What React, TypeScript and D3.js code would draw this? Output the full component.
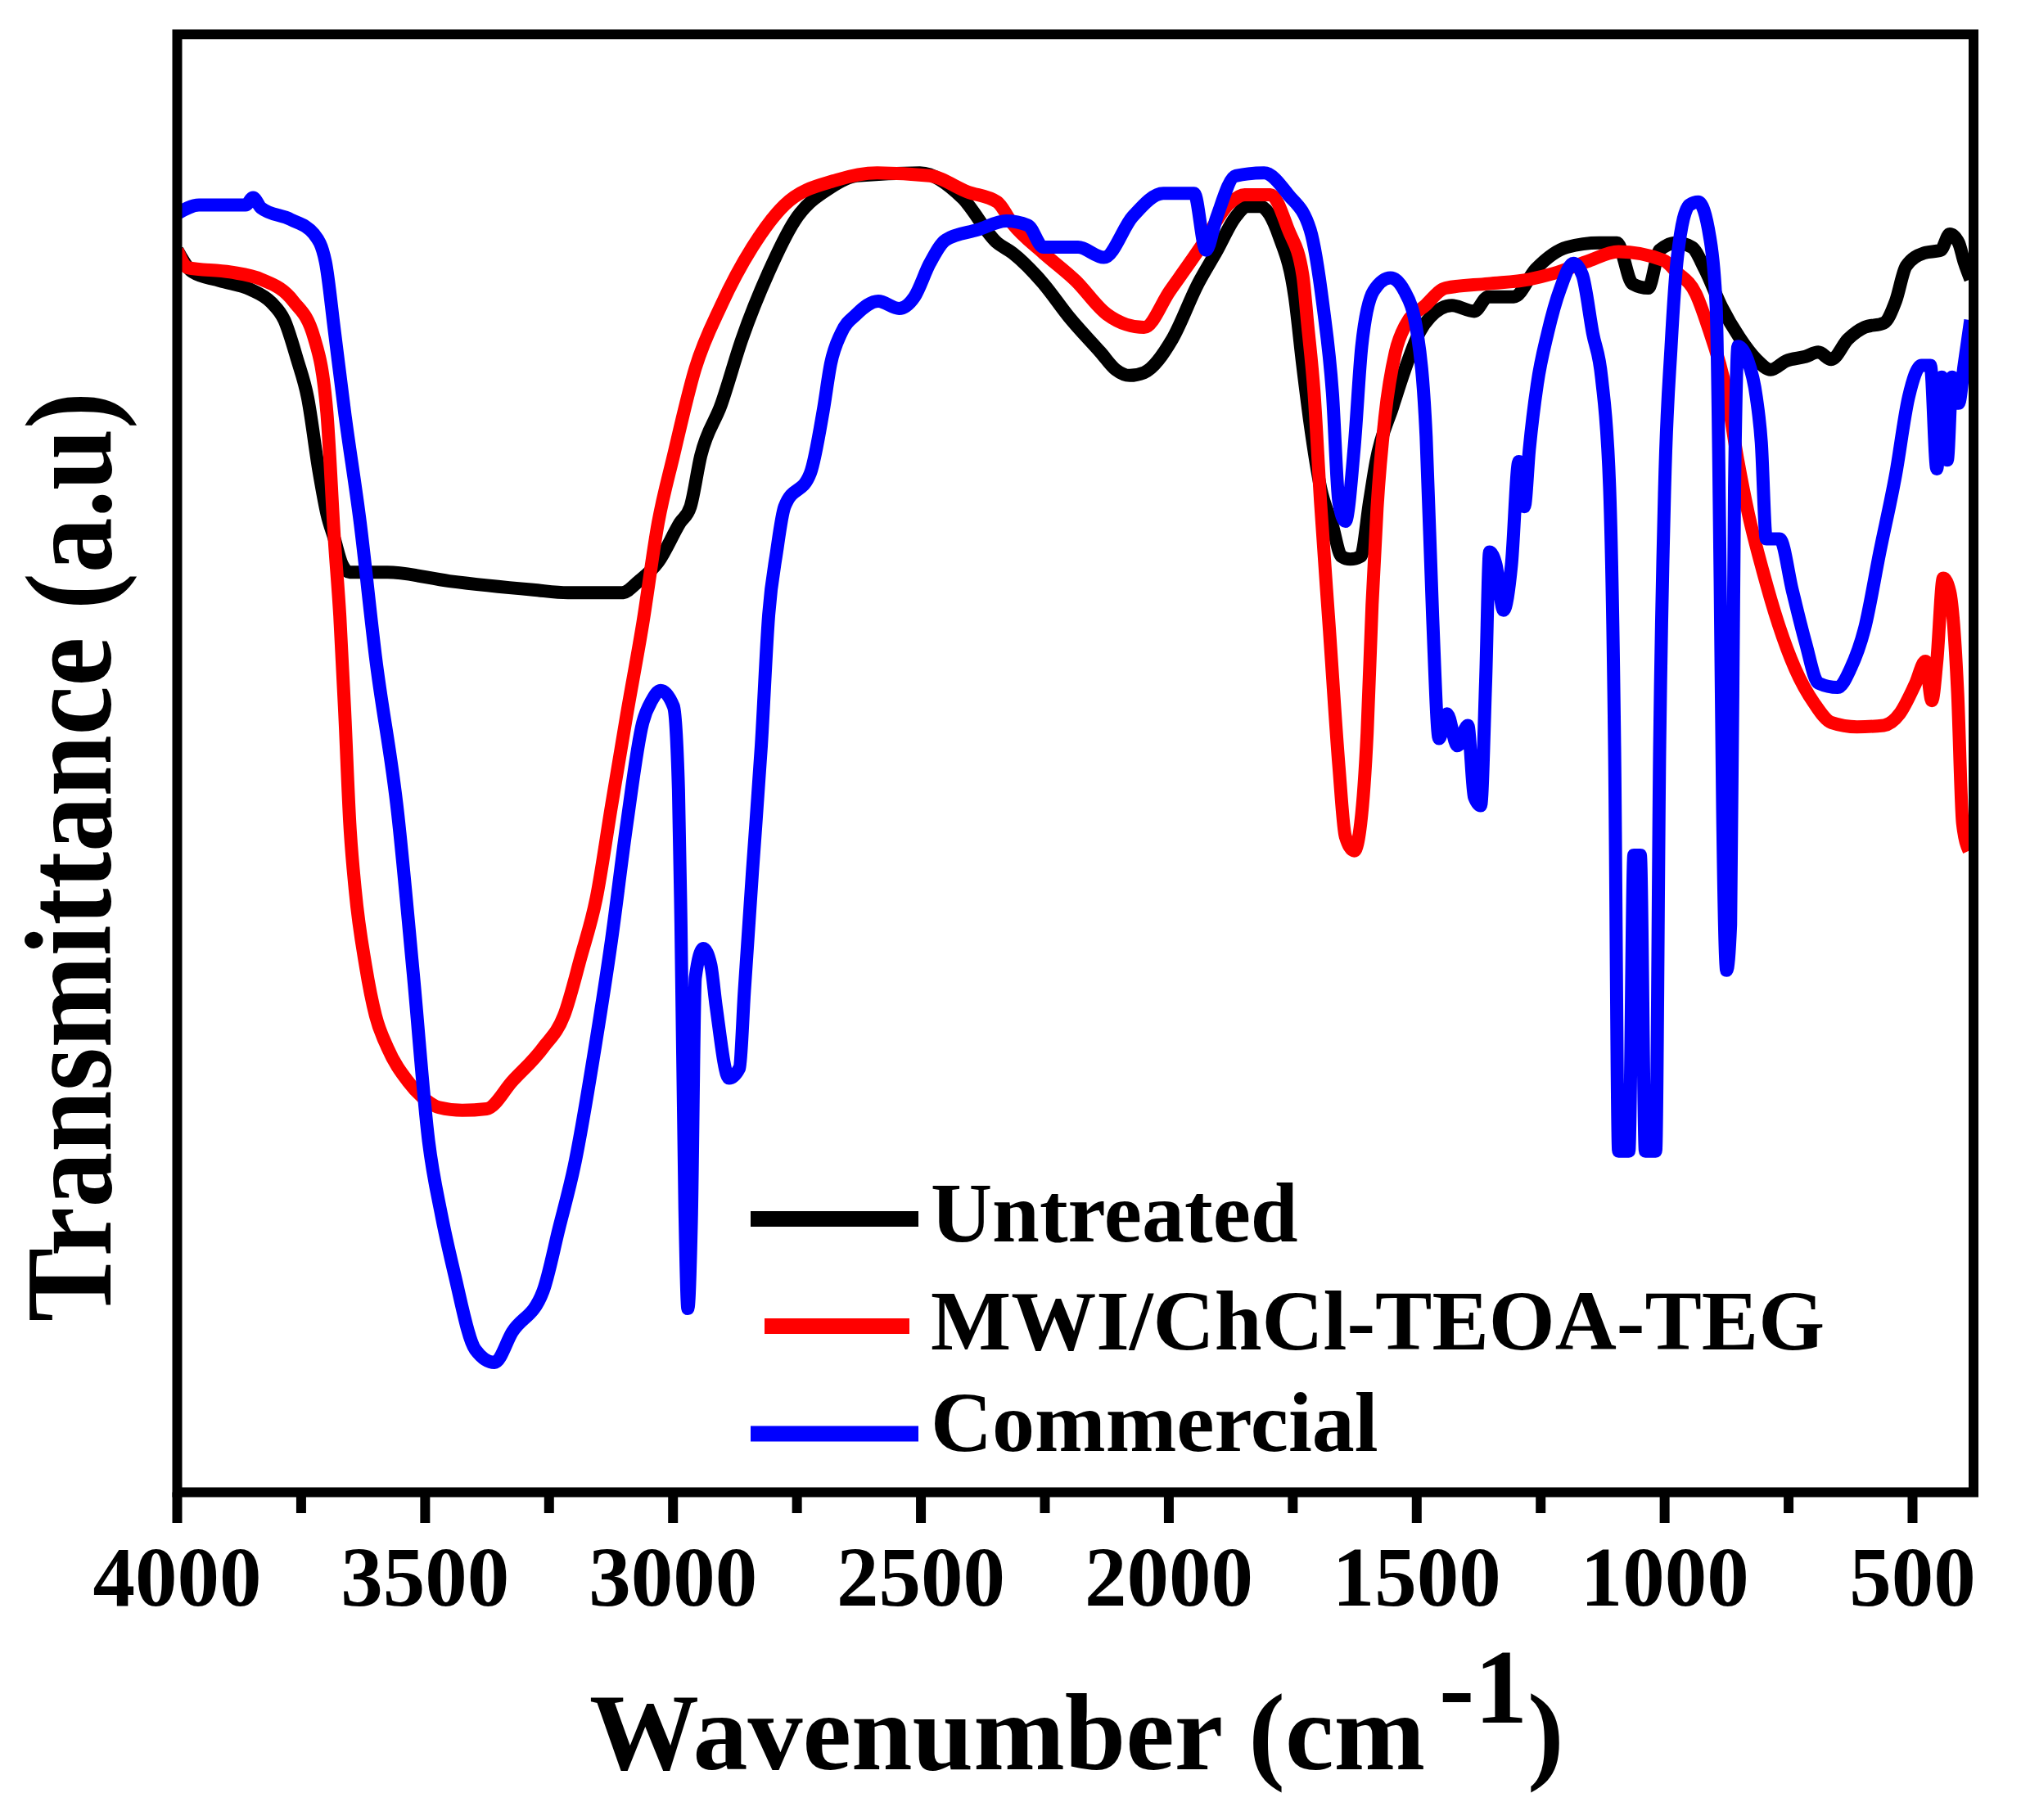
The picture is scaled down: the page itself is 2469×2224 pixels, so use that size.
import React from "react";
import * as d3 from "d3";

// Wavenumber (cm-1), transmittance (a.u., 0-100 of frame height)
const untreated: [number, number][] = [
  [4000, 85.2], [3969, 83.7], [3914, 83.1], [3852, 82.5], [3810, 81.6], [3784, 80.4],
  [3758, 77.7], [3737, 75.1], [3714, 70.0], [3698, 67.1], [3683, 65.4], [3667, 63.6],
  [3652, 63.1], [3576, 63.1], [3451, 62.5], [3282, 61.9], [3212, 61.7], [3103, 61.7],
  [3069, 62.5], [3030, 63.8], [2986, 66.5], [2965, 67.6], [2944, 71.1], [2903, 74.6],
  [2861, 79.1], [2807, 83.7], [2755, 87.2], [2682, 89.5], [2630, 90.3], [2502, 90.5],
  [2417, 88.8], [2346, 85.7], [2315, 85.0], [2253, 82.9], [2201, 80.6], [2138, 78.2],
  [2107, 77.0], [2079, 76.6], [2050, 76.8], [1993, 79.1], [1941, 82.9], [1904, 85.1],
  [1865, 87.5], [1842, 88.2], [1816, 88.2], [1777, 86.1], [1746, 82.0], [1730, 77.3],
  [1715, 73.3], [1694, 68.9], [1670, 66.3], [1652, 64.2], [1634, 64.0], [1613, 64.2],
  [1595, 68.0], [1582, 70.7], [1548, 74.5], [1525, 76.9], [1494, 79.6], [1473, 80.6],
  [1429, 81.4], [1384, 81.0], [1356, 82.0], [1304, 82.0], [1260, 83.9], [1197, 85.4],
  [1132, 85.7], [1096, 85.7], [1065, 82.9], [1033, 82.6], [1010, 85.2], [976, 85.7],
  [945, 85.4], [919, 83.9], [885, 81.3], [849, 79.2], [815, 77.7], [786, 77.0],
  [755, 77.6], [716, 77.9], [690, 78.2], [664, 77.7], [630, 79.1], [597, 79.9],
  [558, 80.2], [534, 81.7], [513, 84.1], [477, 85.0], [443, 85.2], [425, 86.3],
  [407, 85.7], [396, 84.4], [383, 83.2],
];

const mwi: [number, number][] = [
  [4000, 85.2], [3979, 84.0], [3893, 83.7], [3831, 83.2], [3766, 81.7], [3724, 79.2],
  [3698, 74.0], [3683, 65.4], [3672, 60.1], [3662, 53.4], [3652, 45.9], [3641, 41.3],
  [3620, 36.1], [3600, 32.7], [3576, 30.5], [3535, 28.2], [3498, 26.9], [3472, 26.4],
  [3425, 26.2], [3376, 26.3], [3324, 28.2], [3262, 30.5], [3220, 32.7], [3186, 36.7],
  [3155, 40.7], [3124, 47.1], [3093, 53.4], [3061, 59.6], [3030, 66.5], [2999, 71.1],
  [2955, 77.1], [2903, 81.4], [2840, 85.4], [2775, 88.3], [2671, 90.0], [2588, 90.5],
  [2482, 90.3], [2406, 89.2], [2346, 88.5], [2315, 87.0], [2253, 85.0], [2188, 83.1],
  [2125, 80.8], [2086, 80.1], [2050, 79.9], [1998, 82.4], [1936, 85.4], [1878, 88.4],
  [1847, 89.0], [1795, 89.0], [1759, 86.6], [1730, 83.5], [1720, 80.1], [1707, 75.4],
  [1694, 67.9], [1676, 59.1], [1657, 49.8], [1644, 45.0], [1626, 44.0], [1613, 45.9],
  [1600, 52.1], [1590, 60.9], [1580, 67.5], [1564, 73.8], [1543, 78.2], [1522, 80.1],
  [1483, 81.4], [1442, 82.6], [1356, 82.9], [1273, 83.2], [1224, 83.6], [1158, 84.4],
  [1093, 85.1], [1002, 84.5], [976, 83.7], [937, 82.2], [914, 80.1], [875, 75.4],
  [852, 70.7], [831, 67.1], [802, 63.2], [771, 59.6], [737, 56.5], [698, 54.1],
  [664, 52.8], [612, 52.5], [558, 52.6], [526, 53.4], [495, 55.4], [474, 57.0],
  [461, 54.3], [451, 57.0], [438, 62.7], [425, 61.8], [409, 54.8], [399, 45.9],
  [386, 44.0],
];

const commercial: [number, number][] = [
  [4000, 87.7], [3956, 88.3], [3862, 88.3], [3847, 88.8], [3831, 88.1], [3771, 87.3],
  [3724, 86.3], [3701, 84.4], [3683, 79.7], [3662, 74.0], [3631, 66.5], [3600, 57.3],
  [3555, 46.5], [3524, 35.6], [3493, 24.1], [3467, 19.0], [3441, 15.0], [3399, 9.8],
  [3360, 8.9], [3324, 11.0], [3262, 13.8], [3230, 18.1], [3199, 22.4], [3155, 31.0],
  [3124, 37.9], [3093, 45.9], [3061, 52.8], [3043, 54.3], [3025, 55.0], [2999, 53.9],
  [2989, 48.2], [2984, 39.0], [2976, 19.4], [2970, 12.6], [2963, 18.6], [2955, 35.3],
  [2939, 37.3], [2924, 36.2], [2913, 33.3], [2887, 28.4], [2866, 29.1], [2856, 34.4],
  [2840, 42.5], [2822, 51.2], [2807, 60.2], [2791, 64.5], [2775, 67.6], [2723, 69.9],
  [2697, 74.2], [2682, 77.4], [2661, 79.5], [2630, 80.8], [2586, 81.7], [2544, 81.2],
  [2513, 82.0], [2482, 84.3], [2450, 85.9], [2385, 86.6], [2328, 87.2], [2284, 86.9],
  [2253, 85.4], [2183, 85.4], [2131, 84.7], [2073, 87.5], [2011, 89.1], [1949, 89.1],
  [1925, 85.2], [1904, 87.4], [1865, 90.3], [1808, 90.5], [1759, 89.0], [1715, 86.6],
  [1689, 81.4], [1670, 75.4], [1657, 67.9], [1644, 66.6], [1626, 71.7], [1611, 78.6],
  [1587, 82.4], [1553, 83.3], [1525, 82.4], [1499, 79.5], [1481, 72.4], [1468, 60.1],
  [1455, 51.7], [1439, 53.4], [1418, 51.2], [1397, 52.6], [1384, 47.7], [1371, 47.1],
  [1361, 55.6], [1353, 64.5], [1340, 63.6], [1325, 60.5], [1309, 63.6], [1294, 70.7],
  [1283, 67.6], [1273, 71.5], [1257, 76.0], [1236, 79.5], [1210, 82.6], [1184, 84.3],
  [1166, 83.5], [1145, 79.5], [1127, 76.4], [1111, 68.9], [1101, 51.2], [1093, 23.4],
  [1072, 23.4], [1062, 43.7], [1049, 43.7], [1039, 23.4], [1018, 23.4], [1010, 51.2],
  [1000, 68.9], [987, 78.6], [974, 84.8], [950, 88.3], [932, 88.5], [909, 86.1],
  [896, 81.3], [888, 62.7], [883, 46.8], [875, 35.8], [867, 38.9], [859, 68.9],
  [852, 78.6], [833, 77.7], [815, 75.1], [805, 72.0], [795, 65.4], [768, 65.4],
  [742, 61.8], [716, 58.3], [690, 55.5], [651, 55.2], [625, 56.5], [597, 59.2],
  [566, 64.5], [534, 69.8], [508, 75.1], [482, 77.3], [464, 77.3], [451, 70.2],
  [441, 76.5], [430, 70.8], [420, 76.5], [407, 74.7], [396, 77.3], [383, 80.4],
];

const seriesNames = ["Untreated", "MWI/ChCl-TEOA-TEG", "Commercial"];
const seriesColors = ["#000000", "#ff0000", "#0000ff"];
const seriesData = [untreated, mwi, commercial];

const majorTicks = [4000, 3500, 3000, 2500, 2000, 1500, 1000, 500];
const minorTicks = [3750, 3250, 2750, 2250, 1750, 1250, 750];

const W = 2469;
const H = 2224;
const L = 216.5, R = 2411, T = 42, B = 1823.5;
const FONT = "'Liberation Serif', 'Times New Roman', serif";

export default function App() {
  const x = d3.scaleLinear().domain([4000, 377]).range([L, R]);
  const y = d3.scaleLinear().domain([0, 100]).range([B, T]);
  const line = d3
    .line<[number, number]>()
    .x((d) => x(d[0]))
    .y((d) => y(d[1]))
    .curve(d3.curveMonotoneX);

  const legendY = [1489.5, 1620.5, 1752];
  const legendX = [[917, 1122], [934, 1111], [917, 1122]];
  const legendBase = [1517, 1649, 1773];

  return (
    <svg
      width={W}
      height={H}
      viewBox={`0 0 ${W} ${H}`}
      style={{ position: "absolute", left: 0, top: 0, background: "#fff" }}
    >
      <rect x={0} y={0} width={W} height={H} fill="#fff" />
      <defs>
        <clipPath id="plotclip">
          <rect x={L} y={T} width={R - L} height={B - T} />
        </clipPath>
      </defs>
      <g clipPath="url(#plotclip)">
        {seriesData.map((d, i) => (
          <path
            key={i}
            d={line(d) || ""}
            fill="none"
            stroke={seriesColors[i]}
            strokeWidth={16}
            strokeLinejoin="round"
          />
        ))}
      </g>
      {/* frame */}
      <rect x={L} y={T} width={R - L} height={B - T} fill="none" stroke="#000" strokeWidth={12} />
      {/* ticks */}
      {majorTicks.map((t) => (
        <line key={"M" + t} x1={x(t)} x2={x(t)} y1={B} y2={1861} stroke="#000" strokeWidth={12} />
      ))}
      {minorTicks.map((t) => (
        <line key={"m" + t} x1={x(t)} x2={x(t)} y1={B} y2={1849} stroke="#000" strokeWidth={12} />
      ))}
      {majorTicks.map((t) => (
        <text
          key={"l" + t}
          x={x(t)}
          y={1962}
          textAnchor="middle"
          fontFamily={FONT}
          fontWeight="bold"
          fontSize={103}
          fill="#000"
        >
          {t}
        </text>
      ))}
      {/* x title */}
      <text x={720} y={2162} fontFamily={FONT} fontWeight="bold" fontSize={134} fill="#000">
        Wavenumber (cm
      </text>
      <text x={1758} y={2105} fontFamily={FONT} fontWeight="bold" fontSize={130} fill="#000">
        -1
      </text>
      <text x={1866} y={2162} fontFamily={FONT} fontWeight="bold" fontSize={134} fill="#000">
        )
      </text>
      {/* y title */}
      <text
        transform="translate(135,1615) rotate(-90) scale(1,1.12)"
        fontFamily={FONT}
        fontWeight="bold"
        fontSize={134}
        fill="#000"
        textLength={1136}
        lengthAdjust="spacingAndGlyphs"
      >
        Transmittance (a.u)
      </text>
      {/* legend */}
      {seriesNames.map((n, i) => (
        <g key={n}>
          <line
            x1={legendX[i][0]}
            x2={legendX[i][1]}
            y1={legendY[i]}
            y2={legendY[i]}
            stroke={seriesColors[i]}
            strokeWidth={19}
          />
          <text
            x={1137}
            y={legendBase[i]}
            fontFamily={FONT}
            fontWeight="bold"
            fontSize={104}
            fill="#000"
          >
            {n}
          </text>
        </g>
      ))}
    </svg>
  );
}
